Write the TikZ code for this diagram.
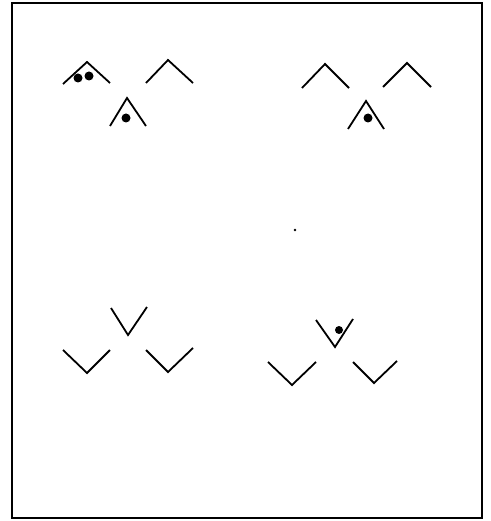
\documentclass[tikz,border=0pt]{standalone}
\begin{document}
\begin{tikzpicture}[x=1pt,y=-1pt,
  chev/.style={line width=1.8pt,line join=miter,line cap=butt},
  frame/.style={line width=1.8pt},
  bead/.style={fill=black}]
\useasboundingbox (0,0) rectangle (490,521);
\draw[frame] (12,3) rectangle (482,518);
% top-left group
\draw[chev] (63,84) -- (87,62) -- (110,83);
\draw[chev] (146,83) -- (168,60) -- (193,83);
\draw[chev] (110,126) -- (127,98) -- (146,126);
\fill[bead] (78,78) circle (4.5);
\fill[bead] (89,76) circle (4.5);
\fill[bead] (126,118) circle (4.5);
% top-right group
\draw[chev] (302,88) -- (325,64) -- (349,88);
\draw[chev] (383,87) -- (407,63) -- (431,87);
\draw[chev] (348,129) -- (366,101) -- (384,129);
\fill[bead] (368,118) circle (4.5);
% centre dot
\fill[bead] (295,230) circle (1.3);
% bottom-left group
\draw[chev] (111,308) -- (128,335) -- (147,307);
\draw[chev] (63,350) -- (87,373) -- (110,350);
\draw[chev] (146,350) -- (168,372) -- (193,348);
% bottom-right group
\draw[chev] (316,320) -- (335,347) -- (353,319);
\draw[chev] (268,362) -- (292,385) -- (316,362);
\draw[chev] (353,362) -- (374,383) -- (397,361);
\fill[bead] (339,330) circle (4);
\end{tikzpicture}
\end{document}
